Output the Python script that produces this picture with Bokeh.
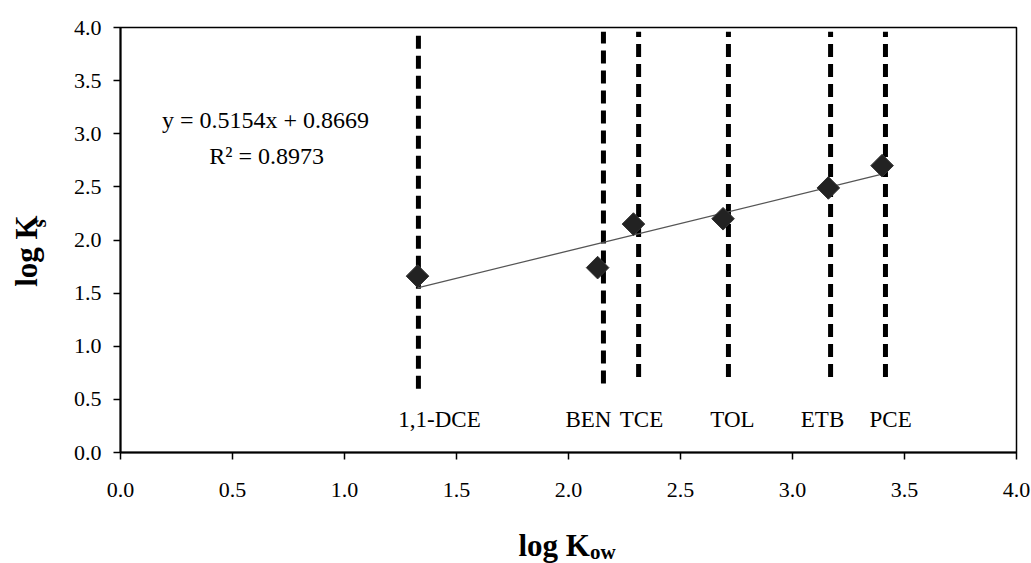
import numpy as np
from bokeh.plotting import figure
from bokeh.layouts import column, row
from bokeh.models import Range1d, FixedTicker, PrintfTickFormatter, Label, ColumnDataSource
from bokeh.core.properties import value
from bokeh.embed import file_html
from bokeh.resources import INLINE

# ---- data ----
compounds = ["1,1-DCE", "BEN", "TCE", "TOL", "ETB", "PCE"]
log_kow = [1.326, 2.13, 2.29, 2.69, 3.16, 3.40]
log_ks = [1.66, 1.74, 2.15, 2.20, 2.49, 2.70]
slope = 0.5154
intercept = 0.8669
r2 = 0.8973
# vertical dashed marker lines for each compound
marker_x = [1.330, 2.156, 2.313, 2.714, 3.170, 3.415]
marker_bottom = [0.60, 0.65, 0.71, 0.71, 0.71, 0.71]
marker_top = [3.96, 3.96, 3.96, 3.96, 3.96, 3.96]
label_x = [1.424, 2.089, 2.326, 2.732, 3.134, 3.438]
label_y = [0.31] * 6
ticks = [0.0, 0.5, 1.0, 1.5, 2.0, 2.5, 3.0, 3.5, 4.0]
x_title, x_sub = "log K", "ow"
y_title, y_sub = "log K", "s"

SERIF = "Liberation Serif"
W, H = 1031, 563
YT_W = 50      # width of the y-title strip
XT_H = 50      # height of the x-title strip
MAIN_H = H - XT_H

p = figure(width=W - YT_W, height=MAIN_H, output_backend="svg", toolbar_location=None,
           x_range=Range1d(0, 4), y_range=Range1d(0, 4),
           min_border_left=120 - YT_W, min_border_right=15, min_border_top=27,
           min_border_bottom=MAIN_H - 452)
p.background_fill_color = "white"
p.border_fill_color = "white"
p.outline_line_color = "black"
p.outline_line_width = 1.5
p.xgrid.visible = False
p.ygrid.visible = False

for ax in (p.xaxis[0], p.yaxis[0]):
    ax.ticker = FixedTicker(ticks=ticks)
    ax.formatter = PrintfTickFormatter(format="%.1f")
    ax.major_label_text_font = SERIF
    ax.major_label_text_font_size = "22px"
    ax.major_label_text_color = "black"
    ax.axis_line_color = "black"
    ax.axis_line_width = 2
    ax.major_tick_line_color = "black"
    ax.major_tick_line_width = 1.5
    ax.major_tick_in = 0
    ax.major_tick_out = 7
    ax.minor_tick_line_color = None
p.xaxis.major_label_standoff = 23
p.yaxis.major_label_standoff = 12

# dashed vertical markers
p.segment(x0=marker_x, y0=marker_bottom, x1=marker_x, y1=marker_top,
          line_color="black", line_width=5, line_dash="13 7", line_cap="butt")

# regression line
xs = np.array([min(log_kow), max(log_kow)])
p.line(xs, slope * xs + intercept, line_color="#555555", line_width=1.3)

# data points (diamonds)
p.scatter(log_kow, log_ks, marker="square", angle=np.pi / 4, size=16,
          fill_color="#222222", line_color="#333333", line_width=1)

# compound labels
src = ColumnDataSource(dict(x=label_x, y=label_y, t=compounds))
p.text(x="x", y="y", text="t", source=src, text_font=value(SERIF), text_font_size="23px",
       text_align="center", text_baseline="middle", text_color="black")

# equation
p.add_layout(Label(x=0.647, y=3.134, text=f"y = {slope}x + {intercept}", text_font=SERIF,
                   text_font_size="24px", text_align="center", text_baseline="middle",
                   text_color="black"))
p.add_layout(Label(x=0.652, y=2.786, text=f"R\u00b2 = {r2}", text_font=SERIF,
                   text_font_size="24px", text_align="center", text_baseline="middle",
                   text_color="black"))


def strip(width, height):
    f = figure(width=width, height=height, output_backend="svg", toolbar_location=None,
               x_range=Range1d(0, width), y_range=Range1d(0, height),
               x_axis_type=None, y_axis_type=None, min_border=0)
    f.outline_line_color = None
    f.background_fill_color = "white"
    f.border_fill_color = "white"
    return f


title_fs = 31
main_w = 2.306 * title_fs  # width of "log K" in Times bold

# y title strip (rotated text)
yf = strip(YT_W, MAIN_H)
yb = MAIN_H - 313
yf.text(x=[26], y=[yb], text=[y_title], angle=np.pi / 2, text_font=value(SERIF),
        text_font_style="bold", text_font_size=f"{title_fs}px", text_align="left",
        text_baseline="middle", text_color="black")
yf.text(x=[38], y=[yb + main_w], text=[y_sub], angle=np.pi / 2, text_font=value(SERIF),
        text_font_style="bold", text_font_size="21px", text_align="left",
        text_baseline="middle", text_color="black")

# x title strip
xf = strip(W, XT_H)
xf.text(x=[518], y=[H - 545], text=[x_title], text_font=value(SERIF), text_font_style="bold",
        text_font_size=f"{title_fs}px", text_align="left", text_baseline="middle",
        text_color="black")
xf.text(x=[518 + main_w], y=[H - 551], text=[x_sub], text_font=value(SERIF),
        text_font_style="bold", text_font_size="21px", text_align="left",
        text_baseline="middle", text_color="black")

layout = column(row(yf, p, spacing=0), xf, spacing=0)
open("out.html", "w").write(file_html(layout, INLINE))
